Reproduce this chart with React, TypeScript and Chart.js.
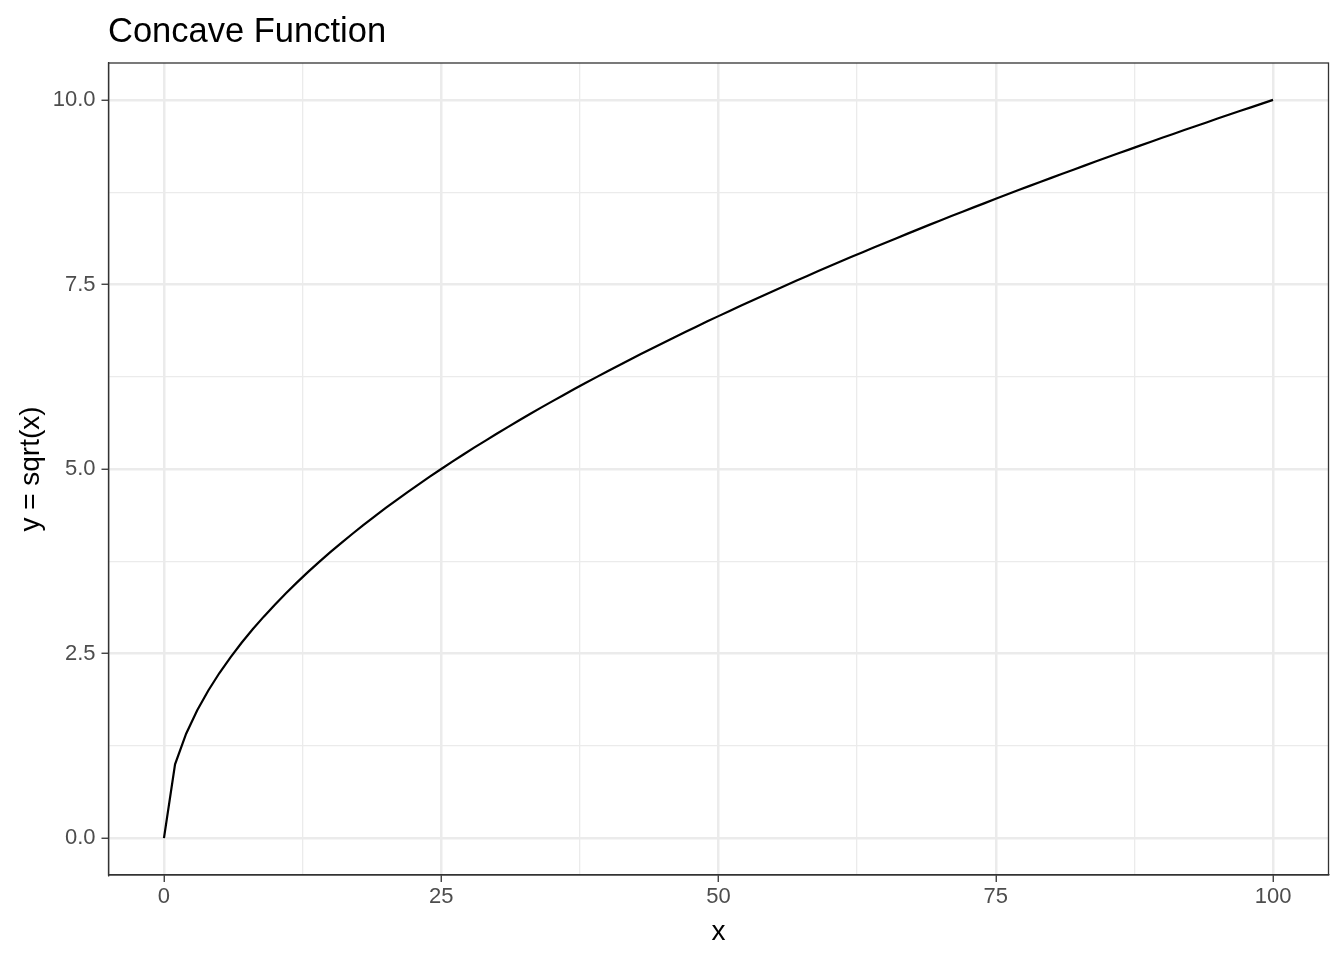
import React, { useEffect, useRef } from "react";
import { Chart, registerables } from "chart.js";

Chart.register(...registerables);

const chartTitle = "Concave Function";
const xAxisTitle = "x";
const yAxisTitle = "y = sqrt(x)";

const xValues: number[] = [
  0, 1, 2, 3, 4, 5, 6, 7, 8, 9, 10, 11, 12, 13, 14, 15, 16, 17, 18, 19, 20,
  21, 22, 23, 24, 25, 26, 27, 28, 29, 30, 31, 32, 33, 34, 35, 36, 37, 38, 39, 40,
  41, 42, 43, 44, 45, 46, 47, 48, 49, 50, 51, 52, 53, 54, 55, 56, 57, 58, 59, 60,
  61, 62, 63, 64, 65, 66, 67, 68, 69, 70, 71, 72, 73, 74, 75, 76, 77, 78, 79, 80,
  81, 82, 83, 84, 85, 86, 87, 88, 89, 90, 91, 92, 93, 94, 95, 96, 97, 98, 99, 100,
];

const yValues: number[] = [
  0, 1, 1.414, 1.732, 2, 2.236, 2.449, 2.646, 2.828, 3, 3.162,
  3.317, 3.464, 3.606, 3.742, 3.873, 4, 4.123, 4.243, 4.359, 4.472,
  4.583, 4.69, 4.796, 4.899, 5, 5.099, 5.196, 5.292, 5.385, 5.477,
  5.568, 5.657, 5.745, 5.831, 5.916, 6, 6.083, 6.164, 6.245, 6.325,
  6.403, 6.481, 6.557, 6.633, 6.708, 6.782, 6.856, 6.928, 7, 7.071,
  7.141, 7.211, 7.28, 7.348, 7.416, 7.483, 7.55, 7.616, 7.681, 7.746,
  7.81, 7.874, 7.937, 8, 8.062, 8.124, 8.185, 8.246, 8.307, 8.367,
  8.426, 8.485, 8.544, 8.602, 8.66, 8.718, 8.775, 8.832, 8.888, 8.944,
  9, 9.055, 9.11, 9.165, 9.22, 9.274, 9.327, 9.381, 9.434, 9.487,
  9.539, 9.592, 9.644, 9.695, 9.747, 9.798, 9.849, 9.899, 9.95, 10,
];

const xMajorTicks: number[] = [0, 25, 50, 75, 100];
const xMinorTicks: number[] = [12.5, 37.5, 62.5, 87.5];
const yMajorTicks: number[] = [0, 2.5, 5, 7.5, 10];
const yMinorTicks: number[] = [1.25, 3.75, 6.25, 8.75];
const xTickLabels: string[] = ["0", "25", "50", "75", "100"];
const yTickLabels: string[] = ["0.0", "2.5", "5.0", "7.5", "10.0"];

const FONT = "'Liberation Sans', Arial, Helvetica, sans-serif";
const GRID = "#EBEBEB";
const DARK = "#333333";

const isMajor = (list: number[], v: number) => list.some((m) => Math.abs(m - v) < 1e-9);

export default function App() {
  const canvasRef = useRef<HTMLCanvasElement | null>(null);

  useEffect(() => {
    const canvas = canvasRef.current;
    if (!canvas) return;

    const decor = {
      id: "decor",
      afterDraw(chart: any) {
        const { ctx, chartArea } = chart;
        ctx.save();
        ctx.strokeStyle = DARK;
        ctx.lineWidth = 1.3;
        ctx.strokeRect(chartArea.left, chartArea.top, chartArea.right - chartArea.left, chartArea.bottom - chartArea.top);

        ctx.fillStyle = "#000000";
        ctx.textAlign = "left";
        ctx.textBaseline = "alphabetic";
        ctx.font = `34.5px ${FONT}`;
        ctx.fillText(chartTitle, 108, 42);

        ctx.font = `28px ${FONT}`;
        ctx.textAlign = "center";
        ctx.fillText(xAxisTitle, (chartArea.left + chartArea.right) / 2, 940);

        ctx.translate(39, (chartArea.top + chartArea.bottom) / 2);
        ctx.rotate(-Math.PI / 2);
        ctx.fillText(yAxisTitle, 0, 0);
        ctx.restore();
      },
    };

    const points = xValues.map((x, i) => ({ x, y: yValues[i] }));

    const chart = new Chart(canvas, {
      type: "line",
      data: {
        datasets: [
          {
            data: points,
            borderColor: "#000000",
            borderWidth: 2.2,
            pointRadius: 0,
            tension: 0,
            fill: false,
          },
        ],
      },
      options: {
        animation: false,
        responsive: false,
        layout: { padding: { top: 63, right: 15.5, left: 0, bottom: 0 } },
        plugins: {
          legend: { display: false },
          title: { display: false },
          tooltip: { enabled: false },
        },
        scales: {
          x: {
            type: "linear",
            min: -5,
            max: 105,
            afterBuildTicks: (scale: any) => {
              scale.ticks = [...xMajorTicks, ...xMinorTicks]
                .sort((a, b) => a - b)
                .map((v) => ({ value: v }));
            },
            afterFit: (scale: any) => {
              scale.height = 85;
            },
            ticks: {
              autoSkip: false,
              maxRotation: 0,
              padding: 2,
              color: "#4D4D4D",
              font: { family: FONT, size: 22 },
              callback: (value: any) => {
                const idx = xMajorTicks.findIndex((m) => Math.abs(m - Number(value)) < 1e-9);
                return idx >= 0 ? xTickLabels[idx] : "";
              },
            },
            grid: {
              color: GRID,
              lineWidth: (ctx: any) => (isMajor(xMajorTicks, ctx.tick?.value) ? 2.5 : 1.3),
              tickLength: 7,
              tickWidth: 1.3,
              tickColor: (ctx: any) => (isMajor(xMajorTicks, ctx.tick?.value) ? DARK : "rgba(0,0,0,0)"),
              drawTicks: true,
            },
            border: { display: true, color: DARK, width: 1.3 },
          },
          y: {
            type: "linear",
            min: -0.5,
            max: 10.5,
            afterBuildTicks: (scale: any) => {
              scale.ticks = [...yMajorTicks, ...yMinorTicks]
                .sort((a, b) => a - b)
                .map((v) => ({ value: v }));
            },
            afterFit: (scale: any) => {
              scale.width = 108.5;
            },
            ticks: {
              autoSkip: false,
              padding: 6,
              color: "#4D4D4D",
              font: { family: FONT, size: 22 },
              callback: (value: any) => {
                const idx = yMajorTicks.findIndex((m) => Math.abs(m - Number(value)) < 1e-9);
                return idx >= 0 ? yTickLabels[idx] : "";
              },
            },
            grid: {
              color: GRID,
              lineWidth: (ctx: any) => (isMajor(yMajorTicks, ctx.tick?.value) ? 2.5 : 1.3),
              tickLength: 7,
              tickWidth: 1.3,
              tickColor: (ctx: any) => (isMajor(yMajorTicks, ctx.tick?.value) ? DARK : "rgba(0,0,0,0)"),
              drawTicks: true,
            },
            border: { display: true, color: DARK, width: 1.3 },
          },
        },
      },
      plugins: [decor],
    });

    return () => {
      chart.destroy();
    };
  }, []);

  return (
    <div style={{ position: "absolute", left: 0, top: 0, width: 1344, height: 960, background: "#ffffff" }}>
      <canvas ref={canvasRef} width={1344} height={960} style={{ width: 1344, height: 960, display: "block" }} />
    </div>
  );
}
